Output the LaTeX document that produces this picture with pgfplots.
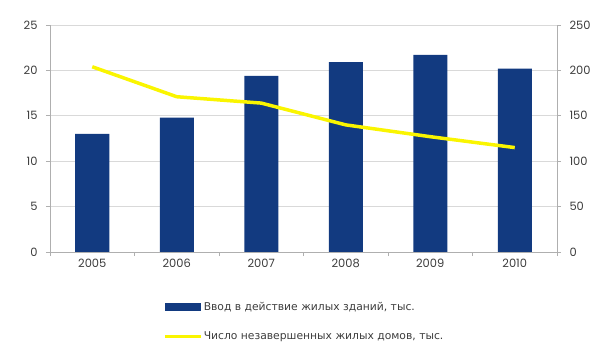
\documentclass[border=0pt]{standalone}
\usepackage{fontspec}
\setmainfont{DejaVu Sans}
\newfontfamily\numfont{Poppins}
\usepackage{pgfplots}
\pgfplotsset{compat=1.18}
\definecolor{barblue}{RGB}{18,58,128}
\definecolor{lineyellow}{RGB}{250,245,0}
\definecolor{gridgray}{RGB}{217,217,217}
\definecolor{axgray}{RGB}{175,175,175}
\definecolor{txt}{RGB}{60,60,60}
\begin{document}
\begin{tikzpicture}
\pgfplotsset{
  common/.style={
    at={(50bp,90bp)}, anchor=south west,
    scale only axis, width=507bp, height=227bp,
    xmin=-0.5, xmax=5.5,
    axis line style={axgray, line width=0.8pt},
    tick style={axgray, line width=0.8pt},
    tick align=outside, major tick length=4bp,
    tick label style={font=\numfont\fontsize{11.5}{13}\selectfont, text=txt},
    /pgf/number format/assume math mode=true,
  }
}
\begin{axis}[common,
  ymin=0, ymax=25, ytick={0,5,...,25},
  axis x line*=bottom, axis y line*=left,
  ymajorgrids, grid style={gridgray, line width=0.8pt},
  xtick={-0.5,0.5,1.5,2.5,3.5,4.5,5.5}, xticklabels={},
  extra x ticks={0,1,2,3,4,5},
  extra x tick labels={2005,2006,2007,2008,2009,2010},
  extra x tick style={major tick length=0pt, grid=none},
  xticklabel style={yshift=-4bp},
  yticklabel style={xshift=-5bp},
  legend style={at={(axis description cs:0.223,-0.215)}, anchor=north west,
    draw=none, fill=none, inner sep=0pt,
    font=\fontsize{10.8}{12}\selectfont, text=txt, row sep=16.5bp,
    nodes={inner sep=1.5bp}},
  legend cell align=left,
]
\addplot[ybar, bar width=34bp, fill=barblue, draw=none,
  legend image code/.code={\fill[barblue] (0bp,-4bp) rectangle (36bp,4bp);}]
  coordinates {(0,13.0) (1,14.8) (2,19.4) (3,20.9) (4,21.7) (5,20.2)};
\addlegendentry{Ввод в действие жилых зданий, тыс.}
\addlegendimage{legend image code/.code={\draw[lineyellow, line width=3pt] (0bp,0bp) -- (36bp,0bp);}}
\addlegendentry{Число незавершенных жилых домов, тыс.}
\end{axis}
\begin{axis}[common,
  ymin=0, ymax=250, ytick={0,50,...,250},
  axis x line=none, axis y line*=right,
  yticklabel style={xshift=5bp},
]
\addplot[lineyellow, line width=3.5pt, line join=round]
  coordinates {(0,204) (1,171) (2,164) (3,140) (4,127) (5,115)};
\end{axis}
\pgfresetboundingbox
\useasboundingbox (0,0) rectangle (595bp,342bp);
\end{tikzpicture}
\end{document}
